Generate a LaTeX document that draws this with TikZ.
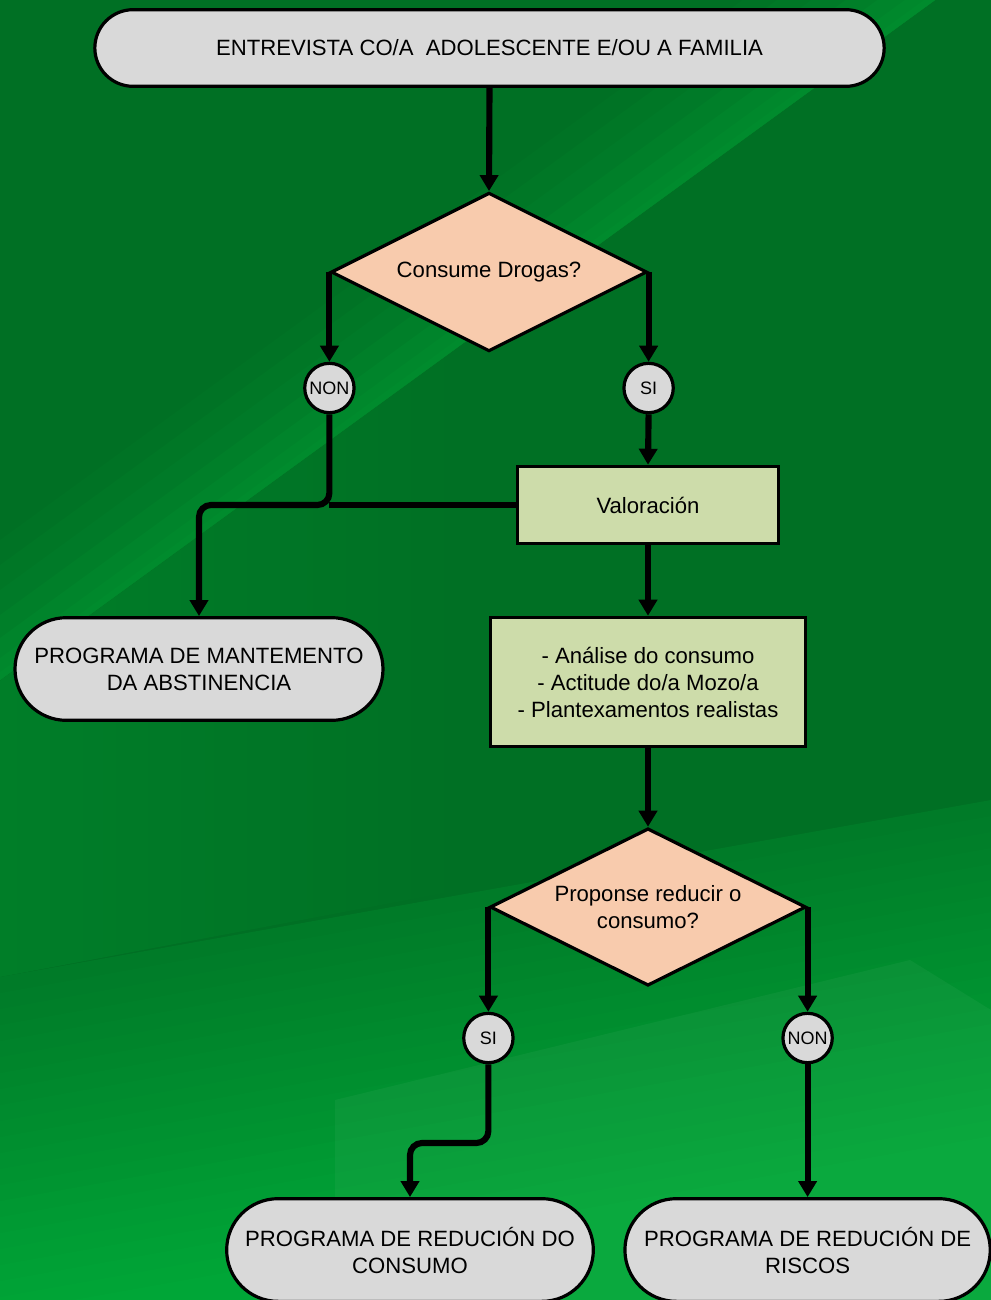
\documentclass[tikz,border=0pt]{standalone}
\usepackage{fontspec}
\setmainfont{Liberation Sans}
\usetikzlibrary{shapes.geometric,shapes.misc,arrows.meta}
\definecolor{bgtop}{RGB}{0,112,36}
\definecolor{bgmid}{RGB}{0,140,45}
\definecolor{bgbot}{RGB}{0,166,55}
\definecolor{bgband}{RGB}{0,142,46}
\definecolor{termfill}{RGB}{217,217,217}
\definecolor{decfill}{RGB}{248,203,173}
\definecolor{procfill}{RGB}{205,220,170}
\tikzset{
  base/.style={draw=black, line width=2.4pt, font=\fontsize{16.6pt}{20.25pt}\selectfont, align=center, inner sep=0pt, text=black},
  term/.style={base, rounded rectangle, fill=termfill},
  decision/.style={base, diamond, aspect=2, fill=decfill},
  proc/.style={base, rectangle, fill=procfill},
  answer/.style={base, circle, fill=termfill, minimum size=37pt, font=\fontsize{13.5pt}{16pt}\selectfont},
  arr/.style={line width=4.6pt, -{Triangle[width=13.5pt,length=12pt]}},
  link/.style={line width=4.6pt},
}
\begin{document}
\begin{tikzpicture}[x=0.75pt,y=-0.75pt]
\clip (0,0) rectangle (991,1300);
% background
\fill[bgtop] (0,0) rectangle (991,1300);
\shade[left color=bgmid!50!bgtop, right color=bgtop] (0,680) -- (460,345) -- (460,890) -- (0,977) -- cycle;
\foreach \d/\p in {140/10,115/22,90/35,65/50,42/65,22/80,8/92}{
  \fill[bgband!\p!bgtop] (0,680-\d) -- ({935-\d*1.375},0) -- (935,0) -- (0,680) -- cycle;
}
\foreach \d in {0,16,...,336}{
  \pgfmathsetmacro\p{min(100,20+\d/4.2)}
  \fill[bgbot!\p!bgtop] (0,977+\d) -- (991,800+\d) -- (991,1300) -- (0,1300) -- cycle;
}
\fill[white, opacity=0.04] (335,1300) -- (335,1100) -- (910,960) -- (991,1010) -- (991,1300) -- cycle;

% nodes
\node[term, minimum width=592pt, minimum height=57.5pt] (start) at (489.5,48) {ENTREVISTA CO/A~ ADOLESCENTE E/OU A FAMILIA};
\node[decision, minimum width=237pt, minimum height=119pt] (d1) at (489,272) {Consume Drogas?};
\coordinate (r1) at (0,388);
\coordinate (r2) at (0,1038);
\coordinate (r4) at (0,1250);
\node[answer] (n1) at (d1.west |- r1) {NON};
\node[answer] (s1) at (d1.east |- r1) {SI};
\node[proc, minimum width=196pt, minimum height=58pt] (val) at (648,505) {Valoración};
\node[term, minimum width=276pt, minimum height=77pt] (mant) at (199,669) {PROGRAMA DE MANTEMENTO\\DA ABSTINENCIA};
\node[proc, minimum width=236.5pt, minimum height=97pt] (anal) at (648,682) {- Análise do consumo\\- Actitude do/a Mozo/a\\- Plantexamentos realistas};
\node[decision, minimum width=237pt, minimum height=118pt] (d2) at (648,907) {Proponse reducir o\\consumo?};
\node[answer] (s2) at (d2.west |- r2) {SI};
\node[answer] (n2) at (d2.east |- r2) {NON};
\node[term, minimum width=275pt, minimum height=77pt] (red) at (410,1250) {PROGRAMA DE REDUCIÓN DO\\CONSUMO};
\node[term, minimum width=274pt, minimum height=77pt] (ris) at (n2 |- r4) {PROGRAMA DE REDUCIÓN DE\\RISCOS};

\coordinate (k1) at (n1.south |- val.west);
\coordinate (r3) at (0,1143);
\coordinate (k2) at (s2.south |- r3);

% connectors
\draw[arr] (start.south) -- (d1.north);
\draw[arr] (d1.west) -- (n1.north);
\draw[arr] (d1.east) -- (s1.north);
\draw[arr] (s1.south) -- (val.north);
\draw[arr, rounded corners=9pt] (n1.south) -- (k1) -| (mant.north);
\draw[link] (val.west) -- (k1);
\draw[arr] (val.south) -- (anal.north);
\draw[arr] (anal.south) -- (d2.north);
\draw[arr] (d2.west) -- (s2.north);
\draw[arr] (d2.east) -- (n2.north);
\draw[arr, rounded corners=9pt] (s2.south) -- (k2) -| (red.north);
\draw[arr] (n2.south) -- (ris.north);
\end{tikzpicture}
\end{document}
